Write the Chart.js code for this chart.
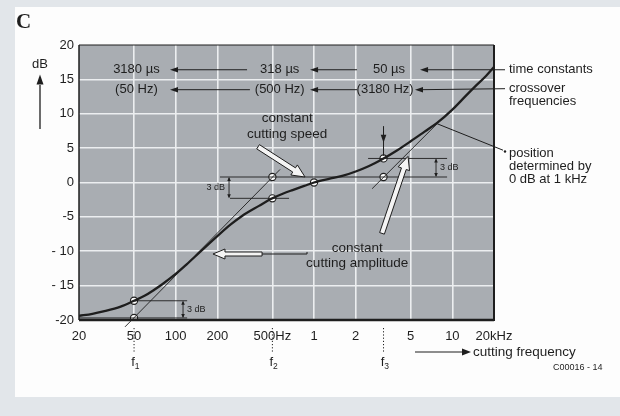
<!DOCTYPE html>
<html>
<head>
<meta charset="utf-8">
<script src="https://cdn.jsdelivr.net/npm/chart.js@4.4.1/dist/chart.umd.min.js"></script>
<style>
html, body { margin: 0; padding: 0; background: #fff; }
</style>
</head>
<body>
<canvas id="riaaChart" width="620" height="416"></canvas>
<script>
// recording curve (Hz / dB)
var freqHz = [20, 25, 30, 40, 50, 60, 70, 80, 100, 120, 150, 200, 250, 300, 400, 500, 600, 700, 850, 1000,
              1300, 1600, 2000, 2500, 3180, 4000, 5000, 6300, 7800, 10000, 12500, 15000, 17500, 20000];
var curveDb = [-19.4, -19.1, -18.75, -18.05, -17.2, -16.45, -15.6, -14.8, -13.3, -11.9, -10.1, -7.8, -6.1, -4.9, -3.4, -2.3, -1.6, -1.1, -0.5, 0,
               0.55, 0.95, 1.6, 2.4, 3.5, 4.7, 6.0, 7.4, 8.7, 10.6, 12.6, 14.2, 15.5, 16.8];

// straight-line asymptotes [Hz, dB]
var asymLow = [[43, -21], [568, 1.9]];
var asymMid = [[209, 0.8], [9160, 0.8]];
var asymHigh = [[2630, -0.9], [7760, 8.55]];

// short horizontal 3 dB marker lines
var markLines = [
  [[50, -17.2], [121, -17.2]],
  [[20, -19.7], [121, -19.7]],
  [[247, -2.3], [660, -2.3]],
  [[2460, 3.5], [9160, 3.5]]
];

// open circles
var circleHz = [50, 50, 500, 500, 1000, 3180, 3180];
var circleDb = [-17.2, -19.7, 0.8, -2.3, 0, 3.5, 0.8];

// 3 dB dimension arrows [Hz, dB top, dB bottom]
var dimArrows = [[113, -17.2, -19.7], [243, 0.8, -2.3], [7620, 3.5, 0.8]];

var cornerHz = [50, 500, 3180];
var cornerSub = ['1', '2', '3'];

var xTicks = [20, 50, 100, 200, 500, 1000, 2000, 5000, 10000, 20000];
var xTickLabels = ['20', '50', '100', '200', '500Hz', '1', '2', '5', '10', '20kHz'];
var yTicks = [-20, -15, -10, -5, 0, 5, 10, 15, 20];
var yTickLabels = ['-20', '- 15', '- 10', '-5', '0', '5', '10', '15', '20'];

var ink = '#1e1e1e';
var FONT = '"Liberation Sans", Arial, sans-serif';

function pts(a) { return a.map(function (p) { return { x: p[0], y: p[1] }; }); }
function thin(data, noClip) {
  return { data: pts(data), borderColor: ink, borderWidth: 0.9, pointRadius: 0, fill: false, clip: noClip ? false : undefined };
}

var datasets = [
  thin(asymLow, true),
  thin(asymMid),
  thin(asymHigh)
];
markLines.forEach(function (m) { datasets.push(thin(m)); });
datasets.push({
  data: freqHz.map(function (f, i) { return { x: f, y: curveDb[i] }; }),
  borderColor: ink, borderWidth: 2.3, pointRadius: 0, fill: false,
  cubicInterpolationMode: 'monotone'
});
datasets.push({
  data: circleHz.map(function (f, i) { return { x: f, y: circleDb[i] }; }),
  showLine: false, pointRadius: 3.6, pointBackgroundColor: '#fff',
  pointBorderColor: ink, pointBorderWidth: 1.1
});

function line(ctx, x1, y1, x2, y2, w) {
  ctx.beginPath(); ctx.lineWidth = w || 1; ctx.moveTo(x1, y1); ctx.lineTo(x2, y2); ctx.stroke();
}
function head(ctx, x1, y1, x2, y2, len, hw) {
  var a = Math.atan2(y2 - y1, x2 - x1);
  ctx.beginPath();
  ctx.moveTo(x2, y2);
  ctx.lineTo(x2 - len * Math.cos(a) + hw * Math.sin(a), y2 - len * Math.sin(a) - hw * Math.cos(a));
  ctx.lineTo(x2 - len * Math.cos(a) - hw * Math.sin(a), y2 - len * Math.sin(a) + hw * Math.cos(a));
  ctx.closePath(); ctx.fill();
}
function hollowArrow(ctx, x1, y1, x2, y2, sw, hw, hl) {
  var dx = x2 - x1, dy = y2 - y1, L = Math.sqrt(dx * dx + dy * dy);
  var ux = dx / L, uy = dy / L, nx = -uy, ny = ux;
  var bx = x2 - ux * hl, by = y2 - uy * hl;
  ctx.beginPath();
  ctx.moveTo(x1 + nx * sw, y1 + ny * sw);
  ctx.lineTo(bx + nx * sw, by + ny * sw);
  ctx.lineTo(bx + nx * hw, by + ny * hw);
  ctx.lineTo(x2, y2);
  ctx.lineTo(bx - nx * hw, by - ny * hw);
  ctx.lineTo(bx - nx * sw, by - ny * sw);
  ctx.lineTo(x1 - nx * sw, y1 - ny * sw);
  ctx.closePath();
  ctx.fillStyle = '#f4f4f4'; ctx.fill();
  ctx.lineWidth = 1; ctx.strokeStyle = ink; ctx.stroke();
  ctx.fillStyle = ink;
}
function txt(ctx, s, x, y, size, align) {
  ctx.font = size + 'px ' + FONT;
  ctx.textAlign = align || 'left';
  ctx.textBaseline = 'middle';
  ctx.fillText(s, x, y);
}

var paper = {
  id: 'paper',
  beforeDraw: function (chart) {
    var ctx = chart.ctx, a = chart.chartArea;
    ctx.save();
    ctx.fillStyle = '#e2e6ea';
    ctx.fillRect(0, 0, chart.width, chart.height);
    ctx.fillStyle = '#fdfdfd';
    ctx.fillRect(15, 7, chart.width - 15, 390);
    ctx.fillStyle = '#a9adb2';
    ctx.fillRect(a.left, a.top, a.right - a.left, a.bottom - a.top);
    ctx.restore();
  },
  afterDraw: function (chart) {
    var ctx = chart.ctx, a = chart.chartArea, sx = chart.scales.x, sy = chart.scales.y;
    function X(f) { return sx.getPixelForValue(f); }
    function Y(d) { return sy.getPixelForValue(d); }
    ctx.save();
    ctx.strokeStyle = ink; ctx.fillStyle = ink;

    // frame
    line(ctx, a.left, a.top, a.right, a.top, 1.2);
    line(ctx, a.left, a.top, a.left, a.bottom, 1.5);
    line(ctx, a.right, a.top, a.right, a.bottom + 1, 2);
    line(ctx, a.left, a.bottom, a.right, a.bottom, 2.5);

    // time constants / crossover rows
    var r1 = Y(16.4), r2 = Y(13.5);
    txt(ctx, '3180 µs', X(52), r1, 13, 'center');
    txt(ctx, '318 µs', X(565), r1, 13, 'center');
    txt(ctx, '50 µs', X(3485), r1, 13, 'center');
    txt(ctx, '(50 Hz)', X(52), r2, 13, 'center');
    txt(ctx, '(500 Hz)', X(565), r2, 13, 'center');
    txt(ctx, '(3180 Hz)', X(3265), r2, 13, 'center');
    [[328, 91, r1], [2046, 936, r1], [344, 91, r2], [2046, 936, r2]].forEach(function (r) {
      line(ctx, X(r[0]), r[2], X(r[1]) + 6, r[2], 1);
      head(ctx, X(r[0]), r[2], X(r[1]), r[2], 8, 2.8);
    });
    line(ctx, a.right + 11, r1, X(5840) + 6, r1, 1);
    head(ctx, a.right + 11, r1, X(5840), r1, 8, 2.8);
    line(ctx, a.right + 11, r2 - 1, X(5370) + 6, r2, 1);
    head(ctx, a.right + 11, r2, X(5370), r2, 8, 2.8);

    txt(ctx, 'time constants', a.right + 15, r1, 13);
    txt(ctx, 'crossover', a.right + 15, r2 - 1, 13);
    txt(ctx, 'frequencies', a.right + 15, r2 + 12, 13);

    // position determined by 0 dB at 1 kHz
    line(ctx, X(7760), Y(8.55), a.right + 9, Y(4.7), 1);
    ctx.beginPath(); ctx.arc(a.right + 11, Y(4.5), 1.2, 0, Math.PI * 2); ctx.fill();
    txt(ctx, 'position', a.right + 15, Y(4.2), 13);
    txt(ctx, 'determined by', a.right + 15, Y(2.3), 13);
    txt(ctx, '0 dB at 1 kHz', a.right + 15, Y(0.4), 13);

    // constant cutting speed / amplitude
    txt(ctx, 'constant', X(640), Y(9.3), 13.5, 'center');
    txt(ctx, 'cutting speed', X(640), Y(7), 13.5, 'center');
    hollowArrow(ctx, X(394), Y(5.2), X(861), Y(0.8), 2.5, 6, 13);
    txt(ctx, 'constant', X(2050), Y(-9.5), 13.5, 'center');
    txt(ctx, 'cutting amplitude', X(2050), Y(-11.7), 13.5, 'center');
    hollowArrow(ctx, X(3100), Y(-7.4), X(4780), Y(3.8), 2.5, 6, 13);
    hollowArrow(ctx, X(421), Y(-10.4), X(186), Y(-10.4), 2, 5, 12);
    line(ctx, X(421), Y(-10.4), X(890), Y(-10.4), 1);
    line(ctx, X(890), Y(-10.4), X(890), Y(-10.1), 1);

    // vertical arrow onto the 3180 Hz point
    line(ctx, X(3180), Y(8.2), X(3180), Y(3.9), 1);
    head(ctx, X(3180), Y(8.2), X(3180), Y(5.8), 8, 2.8);

    // 3 dB dimension arrows
    dimArrows.forEach(function (d, i) {
      var x = X(d[0]), yt = Y(d[1]), yb = Y(d[2]);
      line(ctx, x, yt + 1, x, yb - 1, 0.9);
      head(ctx, x, yb, x, yt, 4, 1.8);
      head(ctx, x, yt, x, yb, 4, 1.8);
      var ym = (yt + yb) / 2;
      if (i === 1) txt(ctx, '3 dB', x - 4, ym, 9, 'right');
      else txt(ctx, '3 dB', x + 4, ym, 9, 'left');
    });

    // corner frequency markers below the axis
    ctx.setLineDash([1.2, 2]);
    cornerHz.forEach(function (f) { line(ctx, X(f), a.bottom + 8, X(f), a.bottom + 33, 1); });
    ctx.setLineDash([]);
    cornerHz.forEach(function (f, i) {
      txt(ctx, 'f', X(f) - 1, a.bottom + 42, 13, 'center');
      txt(ctx, cornerSub[i], X(f) + 3, a.bottom + 47, 8.5, 'center');
    });

    // cutting frequency arrow
    var yc = a.bottom + 32;
    line(ctx, a.right - 79, yc, a.right - 30, yc, 1.2);
    head(ctx, a.right - 79, yc, a.right - 23, yc, 9, 3.5);
    txt(ctx, 'cutting frequency', a.right - 21, yc, 13.5);
    txt(ctx, 'C00016 - 14', a.right + 59, yc + 16, 9);

    // dB axis title and arrow
    txt(ctx, 'dB', 40, Y(17.2), 13, 'center');
    line(ctx, 40, Y(7.8), 40, Y(14.2), 1.3);
    head(ctx, 40, Y(7.8), 40, Y(15.7), 10, 3.5);

    // panel letter
    ctx.font = 'bold 21px "Liberation Serif", serif';
    ctx.textAlign = 'left'; ctx.textBaseline = 'alphabetic';
    ctx.fillText('C', 16, 28);
    ctx.restore();
  }
};

var ctx = document.getElementById('riaaChart').getContext('2d');
var riaaChart = new Chart(ctx, {
  type: 'line',
  data: { datasets: datasets },
  options: {
    responsive: false,
    animation: false,
    parsing: false,
    layout: { padding: { left: 0, right: 126, top: 45, bottom: 0 } },
    plugins: { legend: { display: false }, tooltip: { enabled: false } },
    scales: {
      x: {
        type: 'logarithmic', min: 20, max: 20000,
        afterBuildTicks: function (s) { s.ticks = xTicks.map(function (v) { return { value: v }; }); },
        afterFit: function (s) { s.height = 96; },
        border: { display: false },
        grid: {
          drawTicks: false, lineWidth: 1.6,
          color: function (c) { return (c.tick && (c.tick.value === 20 || c.tick.value === 20000)) ? 'rgba(0,0,0,0)' : '#eceef0'; }
        },
        ticks: {
          autoSkip: false, maxRotation: 0, padding: 9, color: ink,
          font: { family: FONT, size: 13 },
          callback: function (v, i) { return xTickLabels[i]; }
        }
      },
      y: {
        min: -20, max: 20,
        afterBuildTicks: function (s) { s.ticks = yTicks.map(function (v) { return { value: v }; }); },
        afterFit: function (s) { s.width = 79; },
        border: { display: false },
        grid: {
          drawTicks: false, lineWidth: 1.6,
          color: function (c) { return (c.tick && (c.tick.value === 20 || c.tick.value === -20)) ? 'rgba(0,0,0,0)' : '#eceef0'; }
        },
        ticks: {
          padding: 5, color: ink,
          font: { family: FONT, size: 13 },
          callback: function (v, i) { return yTickLabels[i]; }
        }
      }
    }
  },
  plugins: [paper]
});
</script>
</body>
</html>
